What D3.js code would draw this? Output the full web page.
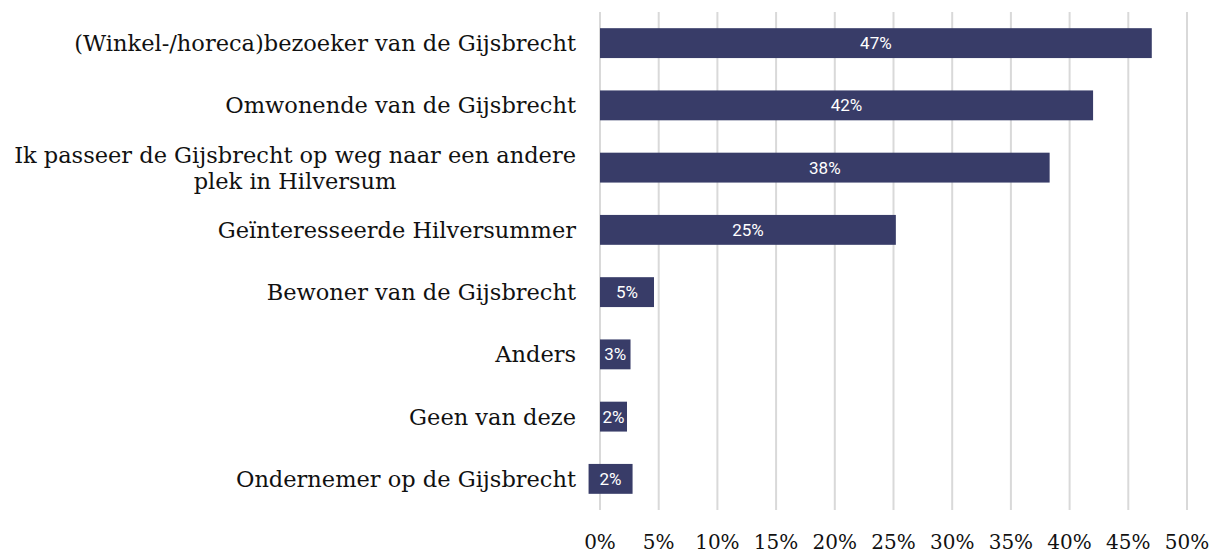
<!DOCTYPE html>
<html>
<head>
<meta charset="utf-8">
<script src="https://cdn.jsdelivr.net/npm/d3@7"></script>
<style>
  body { margin: 0; background: #fff; }
  svg { display: block; }
</style>
</head>
<body>
<svg id="chart" width="1217" height="553"></svg>
<script>
const categories = [
  ['(Winkel-/horeca)bezoeker van de Gijsbrecht'],
  ['Omwonende van de Gijsbrecht'],
  ['Ik passeer de Gijsbrecht op weg naar een andere', 'plek in Hilversum'],
  ['Geïnteresseerde Hilversummer'],
  ['Bewoner van de Gijsbrecht'],
  ['Anders'],
  ['Geen van deze'],
  ['Ondernemer op de Gijsbrecht']
]
const values = [47.0, 42.0, 38.3, 25.2, 4.6, 2.6, 2.3, 1.8]
const valueLabels = ['47%', '42%', '38%', '25%', '5%', '3%', '2%', '2%']
const ticks = [0, 5, 10, 15, 20, 25, 30, 35, 40, 45, 50]

const svg = d3.select('#chart')
const mLeft = 600, mRight = 1187, mTop = 12, mBottom = 510

const x = d3.scaleLinear().domain([0, 50]).range([mLeft, mRight])
const y = d3.scaleBand()
  .domain(d3.range(categories.length))
  .range([mTop, mBottom])
  .paddingInner(0.52)
  .paddingOuter(0.26)

// gridlines
svg.append('g').selectAll('line')
  .data(ticks)
  .enter().append('line')
  .attr('x1', d => x(d)).attr('x2', d => x(d))
  .attr('y1', mTop).attr('y2', mBottom)
  .attr('stroke', '#d9d9d9')
  .attr('stroke-width', 2)

// tick labels
svg.append('g').selectAll('text')
  .data(ticks)
  .enter().append('text')
  .attr('x', d => x(d))
  .attr('y', 549)
  .attr('text-anchor', 'middle')
  .style('font-family', '"DejaVu Serif", serif')
  .style('font-size', '20px')
  .style('fill', '#111')
  .text(d => d + '%')

// bars (very short bars get widened round their centre to hold the label)
const minW = 24, boxW = 44
const bar = svg.append('g').selectAll('g')
  .data(values)
  .enter().append('g')

bar.append('rect')
  .attr('x', d => (x(d) - x(0) < minW) ? (x(0) + x(d)) / 2 - boxW / 2 : x(0))
  .attr('y', (d, i) => y(i))
  .attr('width', d => (x(d) - x(0) < minW) ? boxW : x(d) - x(0))
  .attr('height', y.bandwidth())
  .attr('fill', '#383c68')

bar.append('text')
  .attr('x', d => (x(0) + x(d)) / 2)
  .attr('y', (d, i) => y(i) + y.bandwidth() / 2)
  .attr('dy', '0.36em')
  .attr('text-anchor', 'middle')
  .style('font-family', 'Roboto, sans-serif')
  .style('font-size', '17px')
  .style('fill', '#fff')
  .text((d, i) => valueLabels[i])

// category labels
const labelRight = 576
const lab = svg.append('g').selectAll('text')
  .data(categories)
  .enter().append('text')
  .attr('text-anchor', 'middle')
  .style('font-family', '"DejaVu Serif", serif')
  .style('font-size', '22.5px')
  .style('fill', '#111')

lab.each(function (lines, i) {
  const t = d3.select(this)
  const cy = y(i) + y.bandwidth() / 2
  const lh = 26
  lines.forEach((l, j) => {
    t.append('tspan')
      .attr('y', cy + (j - (lines.length - 1) / 2) * lh)
      .attr('dy', '0.35em')
      .text(l)
  })
  const widths = []
  t.selectAll('tspan').each(function () { widths.push(this.getComputedTextLength()) })
  const w = d3.max(widths)
  t.selectAll('tspan').attr('x', labelRight - w / 2)
})
</script>
</body>
</html>
